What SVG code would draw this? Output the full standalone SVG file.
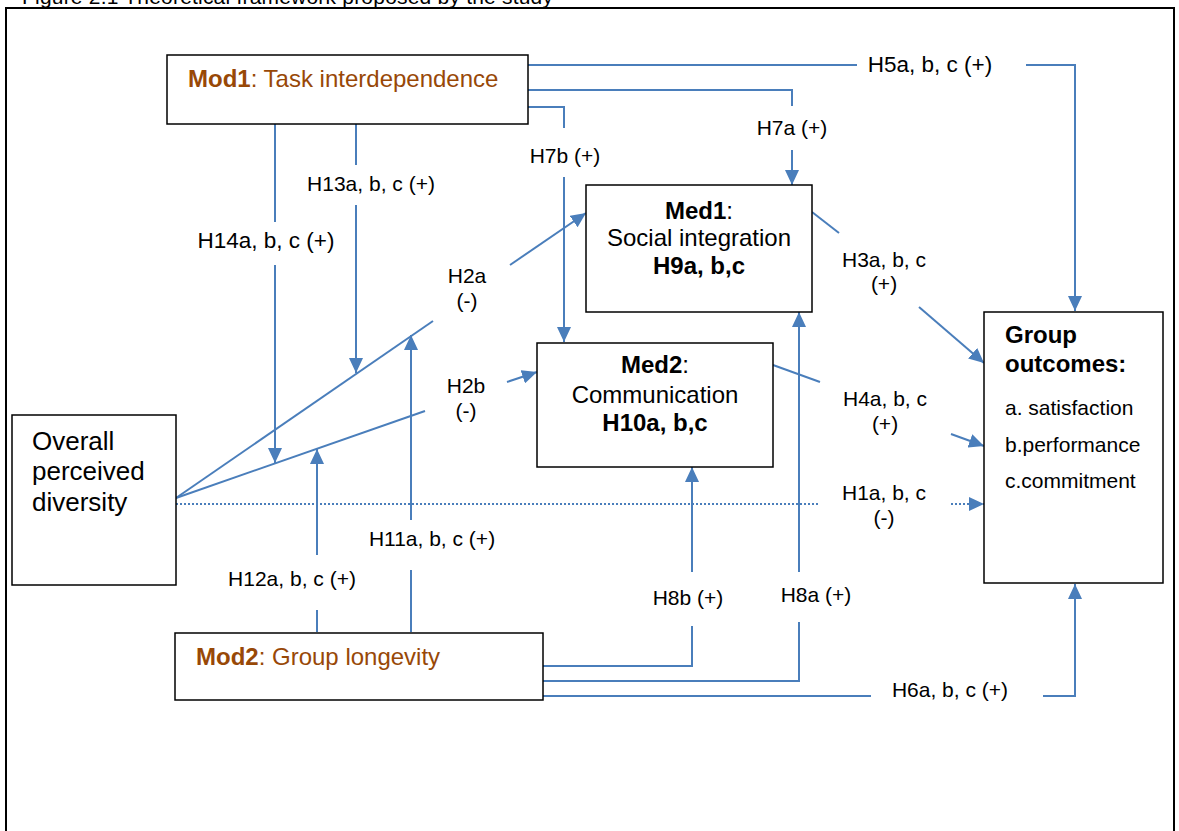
<svg xmlns="http://www.w3.org/2000/svg" width="1179" height="831" viewBox="0 0 1179 831">
  <defs>
    <marker id="arrow" markerUnits="userSpaceOnUse" markerWidth="15" markerHeight="14" refX="15" refY="7" orient="auto">
      <path d="M0,0 L15,7 L0,14 z" fill="#4a7ebb"/>
    </marker>
    <style>
      text { font-family: "Liberation Sans", Arial, sans-serif; fill: #000; }
      .box { fill: #fff; stroke: #000; stroke-width: 1.5; }
      .frame { fill: none; stroke: #000; stroke-width: 2; }
      .link { fill: none; stroke: #4a7ebb; stroke-width: 2; }
      .arr { marker-end: url(#arrow); }
      .dot { stroke-dasharray: 2 2; }
      .lbl { font-size: 21px; text-anchor: middle; }
      .lg { font-size: 22.5px; }
      .node { font-size: 24px; }
      .mid { text-anchor: middle; }
      .mod { fill: #984807; font-size: 24px; }
      .b { font-weight: bold; }
    </style>
  </defs>

  <rect width="1179" height="831" fill="#fff"/>

  <!-- caption and outer frame -->
  <text x="22" y="4" font-size="21" textLength="531">Figure 2.1 Theoretical framework proposed by the study</text>
  <path class="frame" d="M6,831 V8 H1174 V831"/>

  <!-- connectors -->
  <g id="connectors">
    <!-- H5: Mod1 -> outcomes -->
    <path class="link" d="M528,65 H857"/>
    <path class="link arr" d="M1026,65 H1075 V311"/>
    <!-- H7a: Mod1 -> Med1 -->
    <path class="link" d="M528,90 H792 V106"/>
    <path class="link arr" d="M792,150 V185"/>
    <!-- H7b: Mod1 -> Med2 -->
    <path class="link" d="M528,107 H564 V128"/>
    <path class="link arr" d="M564,177 V342"/>
    <!-- H14 / H13: Mod1 moderating the diversity paths -->
    <path class="link" d="M275,124 V222"/>
    <path class="link arr" d="M275,265 V463"/>
    <path class="link" d="M356,124 V165"/>
    <path class="link arr" d="M356,205 V373"/>
    <!-- H2a: diversity -> Med1 -->
    <path class="link" d="M176,498 L433,321"/>
    <path class="link arr" d="M510,265 L586,213"/>
    <!-- H2b: diversity -> Med2 -->
    <path class="link" d="M176,498 L425,411"/>
    <path class="link arr" d="M507,382 L537,372"/>
    <!-- H1: diversity -> outcomes (direct) -->
    <path class="link dot" d="M176,504 H820"/>
    <path class="link dot arr" d="M951,504 H984"/>
    <!-- H3 / H4: mediators -> outcomes -->
    <path class="link" d="M812,212 L839,233"/>
    <path class="link arr" d="M919,307 L984,363"/>
    <path class="link" d="M773,365 L820,382"/>
    <path class="link arr" d="M951,434 L984,446"/>
    <!-- H12 / H11: Mod2 moderating the diversity paths -->
    <path class="link" d="M317,632 V610"/>
    <path class="link arr" d="M317,555 V449"/>
    <path class="link" d="M411,632 V570"/>
    <path class="link arr" d="M411,520 V335"/>
    <!-- H8b / H8a / H6 from Mod2 -->
    <path class="link" d="M543,666 H692 V626"/>
    <path class="link arr" d="M692,572 V467"/>
    <path class="link" d="M543,681 H799 V622"/>
    <path class="link arr" d="M799,572 V312"/>
    <path class="link" d="M543,696 H871"/>
    <path class="link arr" d="M1043,696 H1075 V584"/>
  </g>

  <!-- hypothesis labels -->
  <g id="labels">
    <text class="lbl lg" x="930" y="72">H5a, b, c (+)</text>
    <text class="lbl" x="792" y="135">H7a (+)</text>
    <text class="lbl" x="565" y="163">H7b (+)</text>
    <text class="lbl lg" x="266" y="248">H14a, b, c (+)</text>
    <text class="lbl" x="371" y="191">H13a, b, c (+)</text>
    <text class="lbl" x="467" y="283">H2a</text>
    <text class="lbl" x="467" y="308">(-)</text>
    <text class="lbl" x="466" y="393">H2b</text>
    <text class="lbl" x="466" y="418">(-)</text>
    <text class="lbl" x="884" y="267">H3a, b, c</text>
    <text class="lbl" x="884" y="291">(+)</text>
    <text class="lbl" x="885" y="406">H4a, b, c</text>
    <text class="lbl" x="885" y="431">(+)</text>
    <text class="lbl" x="884" y="500">H1a, b, c</text>
    <text class="lbl" x="884" y="525">(-)</text>
    <text class="lbl" x="432" y="546">H11a, b, c (+)</text>
    <text class="lbl" x="292" y="586">H12a, b, c (+)</text>
    <text class="lbl" x="688" y="605">H8b (+)</text>
    <text class="lbl" x="816" y="602">H8a (+)</text>
    <text class="lbl" x="950" y="697">H6a, b, c (+)</text>
  </g>

  <!-- nodes -->
  <g id="mod1">
    <rect class="box" x="167" y="55" width="361" height="69"/>
    <text class="mod" x="188" y="87"><tspan class="b">Mod1</tspan>: Task interdependence</text>
  </g>

  <g id="med1">
    <rect class="box" x="586" y="185" width="226" height="127"/>
    <text class="node mid" x="699" y="219"><tspan class="b">Med1</tspan>:</text>
    <text class="node mid" x="699" y="246">Social integration</text>
    <text class="node mid b" x="699" y="274">H9a, b,c</text>
  </g>

  <g id="med2">
    <rect class="box" x="537" y="343" width="236" height="124"/>
    <text class="node mid" x="655" y="373"><tspan class="b">Med2</tspan>:</text>
    <text class="node mid" x="655" y="403">Communication</text>
    <text class="node mid b" x="655" y="431">H10a, b,c</text>
  </g>

  <g id="diversity">
    <rect class="box" x="12" y="415" width="164" height="170"/>
    <text x="32" y="450" font-size="26">Overall</text>
    <text x="32" y="480" font-size="26">perceived</text>
    <text x="32" y="511" font-size="26">diversity</text>
  </g>

  <g id="outcomes">
    <rect class="box" x="984" y="312" width="179" height="271"/>
    <text class="node b" x="1005" y="343">Group</text>
    <text class="node b" x="1005" y="372">outcomes:</text>
    <text x="1005" y="415" font-size="21">a. satisfaction</text>
    <text x="1005" y="452" font-size="21">b.performance</text>
    <text x="1005" y="488" font-size="21">c.commitment</text>
  </g>

  <g id="mod2">
    <rect class="box" x="175" y="633" width="368" height="67"/>
    <text class="mod" x="196" y="665"><tspan class="b">Mod2</tspan>: Group longevity</text>
  </g>
</svg>
